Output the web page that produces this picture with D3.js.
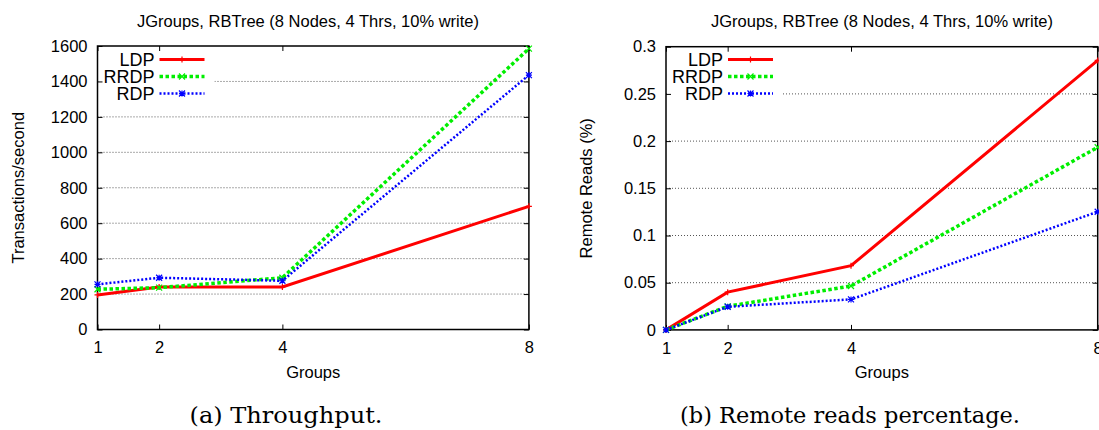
<!DOCTYPE html>
<html>
<head>
<meta charset="utf-8">
<script src="https://cdn.jsdelivr.net/npm/d3@7"></script>
<style>
  body { margin: 0; background: #fff; }
  svg { display: block; }
  text { font-family: "Liberation Sans", Arial, sans-serif; fill: #000; }
  .caption { font-family: "DejaVu Serif", "Liberation Serif", serif; }
</style>
</head>
<body>
<div id="chart"></div>
<script>
// data
var groups = [1, 2, 4, 8];
var seriesNames = ["LDP", "RRDP", "RDP"];

var throughputLDP = [195, 240, 240, 695];
var throughputRRDP = [227, 236, 292, 1585];
var throughputRDP = [255, 292, 275, 1436];
var throughputTicks = [0, 200, 400, 600, 800, 1000, 1200, 1400, 1600];

var remoteLDP = [0, 0.040, 0.068, 0.2855];
var remoteRRDP = [0, 0.025, 0.0465, 0.1935];
var remoteRDP = [0, 0.0245, 0.0323, 0.1252];
var remoteTicks = [0, 0.05, 0.1, 0.15, 0.2, 0.25, 0.3];

var chartTitle = "JGroups, RBTree (8 Nodes, 4 Thrs, 10% write)";

var svgWidth = 1099;
var svgHeight = 430;

var svg = d3.select("#chart")
    .append("svg")
    .attr("width", svgWidth)
    .attr("height", svgHeight);

// line style per series
var styles = [
    {color: "#ff0000", width: 3, dash: null, mark: "plus"},
    {color: "#00ee00", width: 3.5, dash: "3.5,2.5", mark: "cross"},
    {color: "#0000ff", width: 2.5, dash: "2,2", mark: "star"}
];

function markerPath(type, s) {
    if (type == "plus") return `M${-s},0H${s}M0,${-s}V${s}`;
    if (type == "cross") return `M${-s},${-s}L${s},${s}M${-s},${s}L${s},${-s}`;
    return `M${-s},0H${s}M0,${-s}V${s}M${-s},${-s}L${s},${s}M${-s},${s}L${s},${-s}`;
}

function drawChart(cfg) {
    var x = d3.scaleLinear().domain([1, 8]).range([cfg.left, cfg.right]);
    var y = d3.scaleLinear().domain([cfg.ticks[0], cfg.ticks[cfg.ticks.length - 1]])
        .range([cfg.bottom, cfg.top]);

    var g = svg.append("g");

    // grid lines
    g.selectAll("line.grid")
        .data(cfg.ticks.slice(1, -1))
        .enter()
        .append("line")
        .attr("x1", cfg.left)
        .attr("x2", cfg.right)
        .attr("y1", d => y(d))
        .attr("y2", d => y(d))
        .attr("stroke", "#555")
        .attr("stroke-width", 1)
        .attr("stroke-dasharray", "1,2");

    // key area hides grid
    g.append("rect")
        .attr("x", cfg.left + 1)
        .attr("y", 50)
        .attr("width", 116)
        .attr("height", 52)
        .attr("fill", "#fff");

    // axes with inward ticks
    var leftAxis = d3.axisLeft(y).tickValues(cfg.ticks).tickSize(-5).tickPadding(10)
        .tickFormat(cfg.fmt);
    var rightAxis = d3.axisRight(y).tickValues(cfg.ticks).tickSize(-5).tickFormat("");
    var bottomAxis = d3.axisBottom(x).tickValues(groups).tickSize(-5).tickPadding(12)
        .tickFormat(d3.format("d"));
    var topAxis = d3.axisTop(x).tickValues(groups).tickSize(-5).tickFormat("");

    [[leftAxis, `translate(${cfg.left},0)`],
     [rightAxis, `translate(${cfg.right},0)`],
     [bottomAxis, `translate(0,${cfg.bottom})`],
     [topAxis, `translate(0,${cfg.top})`]].forEach(function(a) {
        var ax = g.append("g").attr("transform", a[1]).call(a[0]);
        ax.select(".domain").remove();
        ax.selectAll("line").attr("stroke", "#000");
        ax.selectAll("text").attr("font-size", "16.5px")
            .attr("font-family", "Liberation Sans, Arial, sans-serif");
    });

    g.append("rect")
        .attr("x", cfg.left)
        .attr("y", cfg.top)
        .attr("width", cfg.right - cfg.left)
        .attr("height", cfg.bottom - cfg.top)
        .attr("fill", "none")
        .attr("stroke", "#000")
        .attr("stroke-width", 1.5);

    // series
    var line = d3.line().x((d, i) => x(groups[i])).y(d => y(d));
    cfg.series.forEach(function(vals, k) {
        var st = styles[k];
        g.append("path")
            .attr("d", line(vals))
            .attr("fill", "none")
            .attr("stroke", st.color)
            .attr("stroke-width", st.width)
            .attr("stroke-dasharray", st.dash);
        g.selectAll("path.m" + k)
            .data(vals)
            .enter()
            .append("path")
            .attr("transform", (d, i) => `translate(${x(groups[i])},${y(d)})`)
            .attr("d", markerPath(st.mark, 3))
            .attr("stroke", st.color)
            .attr("stroke-width", 1.2);

        // key entry
        var ky = 59.5 + k * 17;
        g.append("text")
            .attr("x", cfg.left + 57)
            .attr("y", ky + 6.5)
            .attr("text-anchor", "end")
            .attr("font-size", "18px")
            .text(seriesNames[k]);
        g.append("line")
            .attr("x1", cfg.left + 62)
            .attr("x2", cfg.left + 107)
            .attr("y1", ky)
            .attr("y2", ky)
            .attr("stroke", st.color)
            .attr("stroke-width", st.width)
            .attr("stroke-dasharray", st.dash);
        g.append("path")
            .attr("transform", `translate(${cfg.left + 84.5},${ky})`)
            .attr("d", markerPath(st.mark, 3))
            .attr("stroke", st.color)
            .attr("stroke-width", 1.2);
    });

    // titles and labels
    g.append("text")
        .attr("x", cfg.titleX)
        .attr("y", 27)
        .attr("text-anchor", "middle")
        .attr("font-size", "16.5px")
        .text(chartTitle);

    g.append("text")
        .attr("transform", `translate(${cfg.yLabelX},${(cfg.top + cfg.bottom) / 2}) rotate(-90)`)
        .attr("text-anchor", "middle")
        .attr("dy", "0.35em")
        .attr("font-size", "16.5px")
        .text(cfg.yLabel);

    g.append("text")
        .attr("x", (cfg.left + cfg.right) / 2)
        .attr("y", 378)
        .attr("text-anchor", "middle")
        .attr("font-size", "16.5px")
        .text("Groups");

    g.append("text")
        .attr("class", "caption")
        .attr("x", cfg.captionX)
        .attr("y", 423)
        .attr("text-anchor", "middle")
        .attr("font-size", "23px")
        .attr("textLength", cfg.captionW)
        .attr("lengthAdjust", "spacingAndGlyphs")
        .text(cfg.caption);
}

drawChart({
    left: 97.5, right: 528.9, top: 46, bottom: 329.5,
    ticks: throughputTicks, fmt: d3.format("d"),
    series: [throughputLDP, throughputRRDP, throughputRDP],
    titleX: 308, yLabel: "Transactions/second", yLabelX: 18,
    caption: "(a) Throughput.", captionX: 286, captionW: 193
});

drawChart({
    left: 666, right: 1097.7, top: 46.7, bottom: 329.9,
    ticks: remoteTicks, fmt: d => d == 0 ? "0" : String(d),
    series: [remoteLDP, remoteRRDP, remoteRDP],
    titleX: 882, yLabel: "Remote Reads (%)", yLabelX: 586,
    caption: "(b) Remote reads percentage.", captionX: 850, captionW: 340
});
</script>
</body>
</html>
